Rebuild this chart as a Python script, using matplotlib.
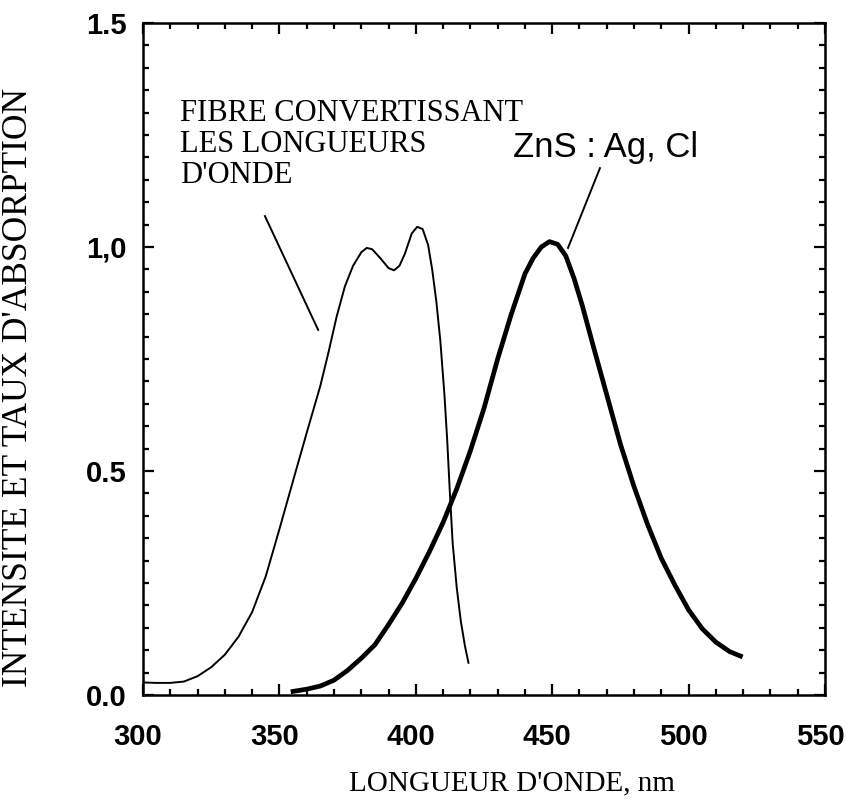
import matplotlib
matplotlib.use("Agg")
import matplotlib.pyplot as plt
import matplotlib.transforms as mtransforms
from matplotlib.ticker import MultipleLocator, FixedLocator, FixedFormatter

# absorption of the wavelength-converting fibre (thin curve)
fibre_nm = [300, 305, 310, 315, 320, 325, 330, 335, 340, 345, 350, 355, 360,
            365, 368, 371, 374, 377, 380, 382, 384, 387, 390, 392, 394, 396,
            398.5, 400.5, 402.5, 404.5, 406, 407.5, 409, 410.5, 411.5, 412.5,
            413.5, 415, 416.5, 418, 419.3]
fibre_val = [0.028, 0.027, 0.027, 0.03, 0.042, 0.062, 0.09, 0.13, 0.185, 0.265,
             0.37, 0.478, 0.585, 0.69, 0.765, 0.845, 0.912, 0.958, 0.988,
             0.998, 0.995, 0.975, 0.953, 0.948, 0.958, 0.985, 1.03, 1.045,
             1.04, 1.005, 0.95, 0.88, 0.79, 0.67, 0.57, 0.45, 0.34, 0.24,
             0.165, 0.11, 0.072]

# emission of ZnS:Ag,Cl (thick curve)
zns_nm = [355, 360, 365, 370, 375, 380, 385, 390, 395, 400, 405, 410, 415, 420,
          425, 430, 435, 440, 443, 446, 449, 452, 455, 458, 461, 465, 470, 475,
          480, 485, 490, 495, 500, 505, 510, 515, 519]
zns_val = [0.008, 0.013, 0.02, 0.033, 0.055, 0.082, 0.112, 0.157, 0.205, 0.26,
           0.32, 0.385, 0.46, 0.545, 0.64, 0.75, 0.85, 0.94, 0.975, 1.0, 1.012,
           1.006, 0.98, 0.93, 0.87, 0.78, 0.67, 0.56, 0.465, 0.38, 0.305,
           0.245, 0.19, 0.148, 0.118, 0.097, 0.087]

x_ticks = [300, 350, 400, 450, 500, 550]
x_labels = ["300", "350", "400", "450", "500", "550"]
y_ticks = [0.0, 0.5, 1.0, 1.5]
y_labels = ["0.0", "0.5", "1,0", "1.5"]

fig = plt.figure(figsize=(8.56, 8.02), dpi=100)
ax = fig.add_axes([143 / 856, 1 - 695 / 802, 682 / 856, 672 / 802])

ax.plot(fibre_nm, fibre_val, color="black", lw=1.4)
ax.plot(zns_nm, zns_val, color="black", lw=3.4)

# pointer lines to the labels
ax.plot([344.7, 364.2], [1.069, 0.815], color="black", lw=1.4)
ax.plot([467.5, 455.8], [1.176, 0.998], color="black", lw=1.4)

ax.text(313.6, 1.33, "FIBRE CONVERTISSANT\nLES LONGUEURS\nD'ONDE",
        family="Liberation Serif", fontsize=22, va="top", ha="left",
        linespacing=1.08)
ax.text(435.6, 1.223, "ZnS : Ag, Cl", family="Liberation Sans", fontsize=25,
        va="center", ha="left")

ax.set_xlim(300, 550)
ax.set_ylim(0, 1.5)

ax.xaxis.set_major_locator(FixedLocator(x_ticks))
ax.xaxis.set_major_formatter(FixedFormatter(x_labels))
ax.yaxis.set_major_locator(FixedLocator(y_ticks))
ax.yaxis.set_major_formatter(FixedFormatter(y_labels))
ax.xaxis.set_minor_locator(MultipleLocator(10))
ax.yaxis.set_minor_locator(MultipleLocator(0.05))

ax.tick_params(which="both", direction="in", top=True, right=True, width=1.6)
ax.tick_params(which="major", length=8)
ax.tick_params(which="minor", length=4)
ax.tick_params(axis="x", which="major", pad=20)
ax.tick_params(axis="y", which="major", pad=12)

shift = mtransforms.ScaledTranslation(-5 / 100, 0, fig.dpi_scale_trans)
for lab in ax.get_xticklabels():
    lab.set_transform(lab.get_transform() + shift)
for lab in ax.get_xticklabels() + ax.get_yticklabels():
    lab.set_fontfamily("Liberation Sans")
    lab.set_fontweight("bold")
    lab.set_fontsize(21)

for sp in ax.spines.values():
    sp.set_linewidth(1.8)

ax.set_xlabel("LONGUEUR D'ONDE, nm", family="Liberation Serif", fontsize=21)
ax.set_ylabel("INTENSITE ET TAUX D'ABSORPTION", family="Liberation Serif",
              fontsize=25.5)
ax.xaxis.set_label_coords(0.541, -0.112)
ax.yaxis.set_label_coords(-0.158, 0.458)

fig.savefig("out.png", dpi=100)
